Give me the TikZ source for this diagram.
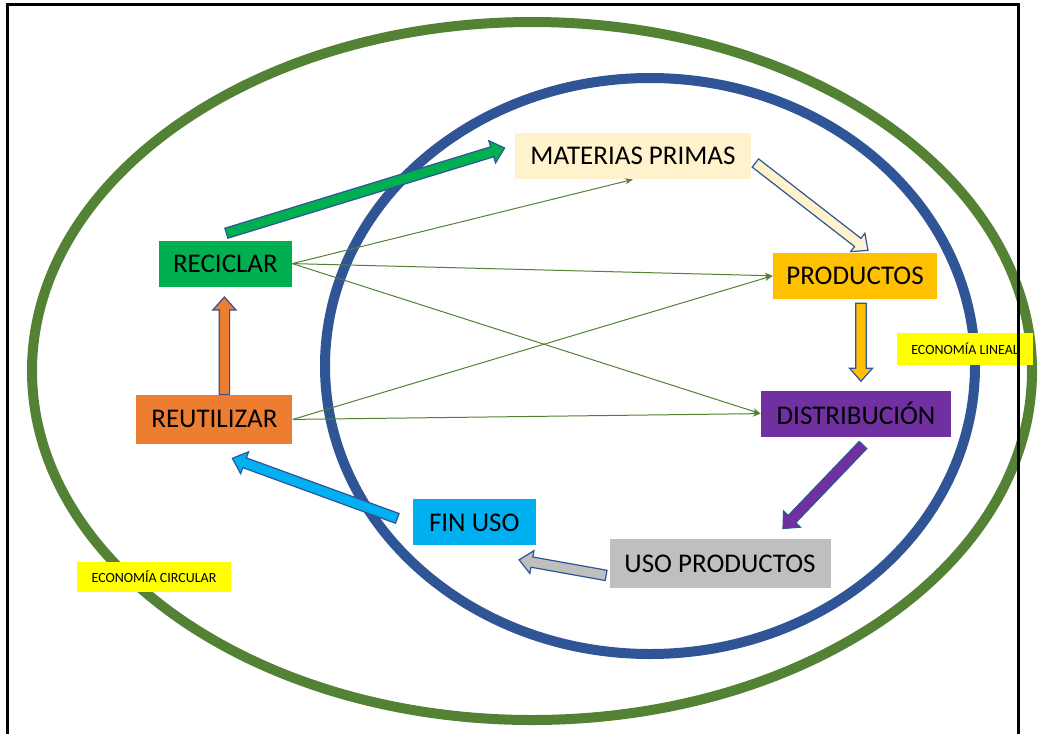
\documentclass[tikz,border=0pt]{standalone}
\usepackage{fontspec}
\setsansfont{Carlito}
\usetikzlibrary{positioning,arrows.meta,calc}
\definecolor{ringgreen}{HTML}{548235}
\definecolor{ringblue}{HTML}{2F5597}
\definecolor{rawcream}{HTML}{FFF2CC}
\definecolor{recyclegreen}{HTML}{00B050}
\definecolor{reuseorange}{HTML}{ED7D31}
\definecolor{productgold}{HTML}{FFC000}
\definecolor{distpurple}{HTML}{7030A0}
\definecolor{endblue}{HTML}{00B0F0}
\definecolor{usegrey}{HTML}{BFBFBF}
\definecolor{tagyellow}{HTML}{FFFF00}

% fat outlined arrow: tail, tip, fill colour
\newcommand{\blockarrow}[3]{%
  \coordinate (ba-a) at #1;
  \coordinate (ba-b) at #2;
  \coordinate (ba-h) at ($(ba-b)!6.5pt!(ba-a)$);
  \draw[fatarr, fill=#3] ($(ba-a)!2.6pt!90:(ba-b)$) -- ($(ba-h)!2.6pt!-90:(ba-a)$)
    -- ($(ba-h)!5.8pt!-90:(ba-a)$) -- (ba-b) -- ($(ba-h)!5.8pt!90:(ba-a)$)
    -- ($(ba-h)!2.6pt!90:(ba-a)$) -- ($(ba-a)!2.6pt!-90:(ba-b)$) -- cycle;}

\begin{document}
\begin{tikzpicture}[
    x=0.5pt, y=-0.5pt,
    every node/.style={font=\sffamily\fontsize{13.5}{16}\selectfont, inner sep=0pt, align=center, text=black},
    stagebox/.style={minimum height=23pt},
    econtag/.style={fill=tagyellow, font=\sffamily\fontsize{7}{8}\selectfont, minimum height=16pt},
    ring/.style={line width=5pt},
    pageframe/.style={line width=1.5pt, draw=black},
    link/.style={-{Stealth[length=4pt,width=3pt]}, draw=ringgreen, line width=0.5pt},
    fatarr/.style={draw=ringblue, line width=0.6pt, line join=miter}
  ]
    \path[use as bounding box, fill=white] (0,0) rectangle (1043,734);
    % the two economies
    \draw[ring, draw=ringgreen] (532,371) ellipse [x radius=500, y radius=349];
    \draw[ring, draw=ringblue]  (650,366) ellipse [x radius=325, y radius=288];
    \node[econtag, minimum width=68pt] (linealtag) at (965,349) {ECONOMÍA LINEAL};
    \node[econtag, minimum width=77pt, minimum height=15pt] (circulartag) at (154,577) {ECONOMÍA CIRCULAR};
    \draw[pageframe] (7,734) -- (7,4) -- (1018,4) -- (1018,734);
    % stages
    \node[stagebox, fill=rawcream, minimum width=118pt] (materias) at (633,156) {MATERIAS PRIMAS};
    \node[stagebox, fill=productgold, minimum width=82pt, below=36.5pt of materias, xshift=111pt] (productos) {PRODUCTOS};
    \node[stagebox, fill=distpurple, minimum width=95pt, below=45.5pt of productos, xshift=0.5pt] (distribucion) {DISTRIBUCIÓN};
    \node[stagebox, fill=usegrey, minimum width=110.5pt, minimum height=24.5pt, below=50.75pt of distribucion, xshift=-68pt] (usoprod) {USO PRODUCTOS};
    \node[stagebox, fill=endblue, minimum width=61.5pt, left=36.5pt of usoprod, yshift=20.5pt] (finuso) {FIN USO};
    \node[stagebox, fill=reuseorange, minimum width=78pt, minimum height=24.5pt, left=59.75pt of finuso, yshift=51.5pt] (reutilizar) {REUTILIZAR};
    \node[stagebox, fill=recyclegreen, minimum width=66.5pt, above=53.75pt of reutilizar, xshift=5.5pt] (reciclar) {RECICLAR};
    % thin links back into the chain
    \draw[link] (reciclar.east) -- (materias.south);
    \draw[link] (reciclar.east) -- (productos.west);
    \draw[link] (reciclar.east) -- (distribucion.west);
    \draw[link] (reutilizar.east) -- (productos.west);
    \draw[link] (reutilizar.east) -- (distribucion.west);
    % block arrows
    \blockarrow{($(reciclar.north)+(1,-7)$)}{($(materias.west)+(-10,-8)$)}{recyclegreen}
    \blockarrow{($(materias.east)+(4,7)$)}{($(productos.north)+(13,-2)$)}{rawcream}
    \blockarrow{($(productos.south)+(6,4)$)}{($(distribucion.north)+(5,-9)$)}{productgold}
    \blockarrow{($(distribucion.south)+(7,8)$)}{($(usoprod.north)+(63,-10)$)}{distpurple}
    \blockarrow{($(usoprod.west)+(-3,12)$)}{($(finuso.south east)+(-17,14)$)}{usegrey}
    \blockarrow{($(finuso.west)+(-15,-4)$)}{($(reutilizar.south)+(18,14)$)}{endblue}
    \blockarrow{($(reutilizar.north)+(10,0)$)}{($(reciclar.south)+(-1,10)$)}{reuseorange}
  \end{tikzpicture}
\end{document}
